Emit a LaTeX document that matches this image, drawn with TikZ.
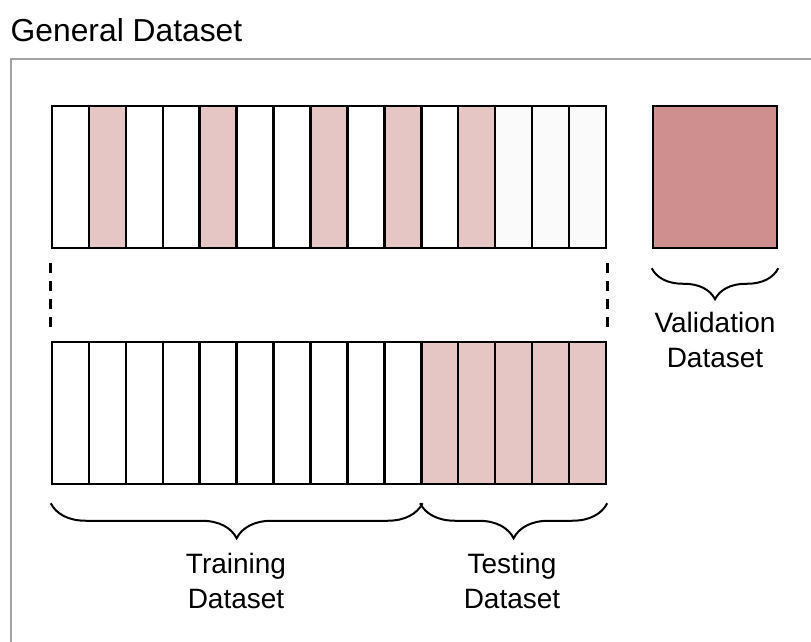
\documentclass[tikz,border=0pt]{standalone}
\usepackage{fontspec}
\setmainfont{Liberation Sans}
\usetikzlibrary{positioning, decorations.pathreplacing}
\definecolor{foldpink}{HTML}{E5C6C4}
\definecolor{valrose}{HTML}{D08F8F}
\definecolor{restgray}{HTML}{FAFAFA}
\definecolor{framegray}{HTML}{A3A3A3}

\begin{document}
\begin{tikzpicture}[
    x=1pt, y=-1pt,
    cell/.style={
        draw=black, line width=2.5pt, fill=#1,
        rectangle, inner sep=0pt,
        minimum width=36.93pt, minimum height=142pt,
    },
    dsname/.style={
        font=\fontsize{28}{35}\selectfont,
        align=center, inner sep=0pt, anchor=north,
    },
    curly/.style={
        decorate, line width=2pt,
        decoration={brace, mirror, amplitude=#1, raise=18pt},
    },
    gapline/.style={
        line width=2.6pt, dash pattern=on 10pt off 8pt,
        shorten <=14pt, shorten >=9pt,
    },
]
\useasboundingbox (0,0) rectangle (811,642);

% frame and title
\draw[framegray, line width=2pt] (811,59.5) -| (10.5,642);
\node[anchor=base west, inner sep=0pt, font=\fontsize{31.8}{36}\selectfont] (title) at (10.5,42) {General Dataset};

% shuffled split (top) and ordered split (bottom)
\foreach \c [count=\i from 0] in {white,foldpink,white,white,foldpink,white,white,foldpink,white,foldpink,white,foldpink,restgray,restgray,restgray}
    \node[cell=\c] (t\i) at ({52+36.93*(\i+0.5)},177) {};
\foreach \c [count=\i from 0] in {white,white,white,white,white,white,white,white,white,white,foldpink,foldpink,foldpink,foldpink,foldpink}
    \node[cell=\c] (b\i) at ({52+36.93*(\i+0.5)},413) {};

\draw[gapline] (t0.south west) -- (b0.north west);
\draw[gapline] (t14.south east) -- (b14.north east);

% held-out block
\node[draw=black, line width=2.5pt, fill=valrose, inner sep=0pt,
      minimum width=124pt, minimum height=142pt] (valset) at (715,177) {};

% braces and names
\draw[curly=35pt] (b0.south west) -- (b9.south east);
\draw[curly=35pt] (b10.south west) -- (b14.south east);
\draw[curly=31pt, decoration={raise=19pt}] (valset.south west) -- (valset.south east);

\node[dsname] (trainlbl) at (236,553) {Training\\Dataset};
\node[dsname] (testlbl) at (512,553) {Testing\\Dataset};
\node[dsname] (vallbl) at (715,312) {Validation\\Dataset};

\end{tikzpicture}
\end{document}
